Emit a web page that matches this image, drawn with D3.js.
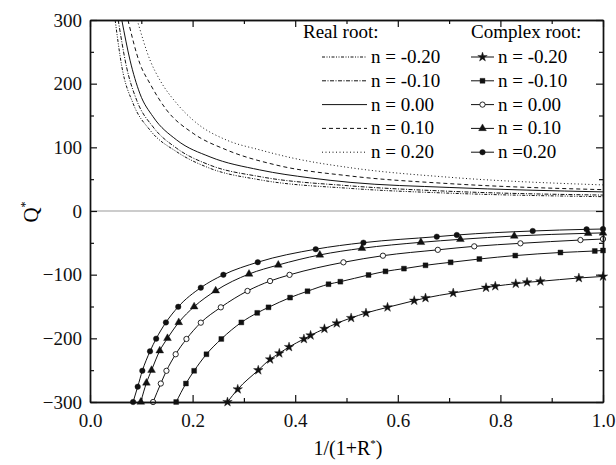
<!DOCTYPE html>
<html>
<head>
<meta charset="utf-8">
<script src="https://cdn.jsdelivr.net/npm/d3@7"></script>
<style>
  body { margin: 0; background: #fff; }
</style>
</head>
<body>
<div id="chart"></div>
<script>
// real root curves, [x, Q*]
const realN_m20 = [[0.049,300],[0.062,227],[0.084,169],[0.117,127],[0.169,93],[0.234,67],[0.331,49],[0.507,35.5],[0.7,28],[1.0,22.5]];
const realN_m10 = [[0.055,300],[0.071,227],[0.091,174],[0.123,132],[0.169,98.5],[0.234,72],[0.331,54],[0.507,39.5],[0.7,31],[1.0,25]];
const realN_000 = [[0.062,300],[0.078,237],[0.097,185],[0.123,148],[0.169,111.5],[0.234,85],[0.331,64.5],[0.429,52],[0.507,45],[0.7,37],[1.0,30]];
const realN_p10 = [[0.074,300],[0.097,232],[0.117,200],[0.149,159],[0.201,122],[0.266,96],[0.364,72],[0.507,55],[0.7,43],[1.0,33.5]];
const realN_p20 = [[0.092,300],[0.117,237],[0.136,206],[0.169,169],[0.208,138],[0.266,111.5],[0.331,96],[0.396,83],[0.507,68],[0.7,53],[1.0,41]];

// complex root curves (markers), [x, Q*]
const cplxN_m20 = [[0.268,-300],[0.288,-280],[0.328,-250],[0.351,-233],[0.369,-223.5],[0.388,-213.6],[0.417,-201],[0.43,-195.3],[0.457,-185],[0.481,-176.4],[0.509,-168],[0.538,-160.2],[0.58,-151.3],[0.632,-140.8],[0.654,-136.6],[0.708,-128.8],[0.772,-120.4],[0.79,-118],[0.83,-114.2],[0.852,-112],[0.878,-110.4],[0.953,-105.2],[1.0,-102.8]];
const cplxN_m10 = [[0.168,-300],[0.187,-271],[0.203,-251],[0.227,-225],[0.256,-201],[0.295,-175],[0.326,-160],[0.348,-151.3],[0.39,-136],[0.424,-126],[0.465,-115],[0.488,-111],[0.543,-100.5],[0.576,-94.8],[0.612,-90.5],[0.654,-85.3],[0.703,-80.6],[0.759,-75.4],[0.829,-70],[0.917,-65.2],[0.984,-62.8],[1.0,-62]];
const cplxN_000 = [[0.123,-300],[0.138,-271],[0.149,-251],[0.167,-225],[0.188,-201],[0.216,-175.4],[0.255,-151.3],[0.307,-125.6],[0.351,-110],[0.389,-100.3],[0.494,-80.6],[0.571,-70.2],[0.678,-61],[0.749,-55.5],[0.839,-50.8],[0.956,-45.6],[1.0,-44]];
const cplxN_p10 = [[0.099,-300],[0.11,-270],[0.12,-250],[0.136,-219.4],[0.151,-200],[0.173,-175],[0.203,-150.3],[0.245,-125.2],[0.31,-99],[0.367,-84.8],[0.448,-69],[0.53,-58.6],[0.645,-49.2],[0.722,-44.5],[0.827,-39.3],[0.971,-35],[1.0,-34.4]];
const cplxN_p20 = [[0.084,-300],[0.093,-276],[0.102,-251],[0.117,-220.4],[0.129,-200.5],[0.148,-175],[0.172,-150.5],[0.216,-120.4],[0.26,-100.2],[0.327,-80.4],[0.44,-60],[0.533,-49.7],[0.676,-40.3],[0.715,-37.7],[0.863,-31.4],[0.968,-28.8],[1.0,-28.3]];

const realLabels = ["n = -0.20", "n = -0.10", "n = 0.00", "n = 0.10", "n = 0.20"];
const cplxLabels = ["n = -0.20", "n = -0.10", "n = 0.00", "n = 0.10", "n =0.20"];
const xTicks = [0, 0.2, 0.4, 0.6, 0.8, 1.0];
const yTicks = [-300, -200, -100, 0, 100, 200, 300];

const realSeries = [realN_m20, realN_m10, realN_000, realN_p10, realN_p20];
const cplxSeries = [cplxN_m20, cplxN_m10, cplxN_000, cplxN_p10, cplxN_p20];
const dashes = ["3,1.5,1,1.5,1,1.5", "4,1.5,1,1.5", null, "4,3", "1,2.5"];
const symbols = [d3.symbolStar, d3.symbolSquare, d3.symbolCircle, d3.symbolTriangle, d3.symbolCircle];
const symSize = [28, 24, 22, 26, 24];
const symFill = ["#111", "#111", "#fff", "#111", "#111"];

const FONT = "Liberation Serif, DejaVu Serif, serif";

const margin = { top: 20, right: 13, bottom: 63, left: 90 };
const width = 616 - margin.left - margin.right;
const height = 465 - margin.top - margin.bottom;

const root = d3.select("#chart").append("svg")
    .attr("width", 616)
    .attr("height", 465)
    .attr("font-family", FONT);
const svg = root.append("g")
    .attr("transform", `translate(${margin.left},${margin.top})`);

const x = d3.scaleLinear().domain([0, 1]).range([0, width]);
const y = d3.scaleLinear().domain([-300, 300]).range([height, 0]);

root.append("defs").append("clipPath").attr("id", "plot")
    .append("rect").attr("width", width).attr("height", height);

// zero line
svg.append("line")
    .attr("x1", 0).attr("x2", width)
    .attr("y1", y(0)).attr("y2", y(0))
    .attr("stroke", "#999").attr("stroke-width", 1);

const line = d3.line()
    .x(d => x(d[0])).y(d => y(d[1]))
    .curve(d3.curveMonotoneX);

const plot = svg.append("g").attr("clip-path", "url(#plot)");

realSeries.forEach((s, i) => {
    plot.append("path")
        .datum(s)
        .attr("d", line)
        .attr("fill", "none")
        .attr("stroke", "#111")
        .attr("stroke-width", 1)
        .attr("stroke-dasharray", dashes[i]);
});

cplxSeries.forEach((s, i) => {
    plot.append("path")
        .datum(s)
        .attr("d", line)
        .attr("fill", "none")
        .attr("stroke", "#111")
        .attr("stroke-width", 1);
    svg.append("g").selectAll("path")
        .data(s)
        .enter()
        .append("path")
        .attr("transform", d => `translate(${x(d[0])},${y(d[1])})`)
        .attr("d", d3.symbol().type(symbols[i]).size(symSize[i]))
        .attr("fill", symFill[i])
        .attr("stroke", "#111")
        .attr("stroke-width", i === 2 ? 0.9 : 0.4);
});

// axes: inward ticks on all four sides
const styleAxis = g => {
    g.attr("font-family", FONT).attr("font-size", 19);
    g.select(".domain").attr("stroke", "#111").attr("stroke-width", 1.4);
    g.selectAll(".tick line").attr("stroke", "#111").attr("stroke-width", 1.2);
    g.selectAll(".tick text").attr("fill", "#111");
};
const minorX = [0.1, 0.3, 0.5, 0.7, 0.9];
const minorY = [-250, -150, -50, 50, 150, 250];

svg.append("g").attr("transform", `translate(0,${height})`)
    .call(d3.axisBottom(x).tickValues(xTicks).tickFormat(d3.format(".1f"))
        .tickSize(-7).tickSizeOuter(0).tickPadding(12))
    .call(styleAxis);
svg.append("g").attr("transform", `translate(0,${height})`)
    .call(d3.axisBottom(x).tickValues(minorX).tickFormat("").tickSize(-4).tickSizeOuter(0))
    .call(styleAxis);
svg.append("g")
    .call(d3.axisTop(x).tickValues(xTicks).tickFormat("").tickSize(-7).tickSizeOuter(0))
    .call(styleAxis);
svg.append("g")
    .call(d3.axisTop(x).tickValues(minorX).tickFormat("").tickSize(-4).tickSizeOuter(0))
    .call(styleAxis);

svg.append("g")
    .call(d3.axisLeft(y).tickValues(yTicks).tickFormat(d3.format("d"))
        .tickSize(-7).tickSizeOuter(0).tickPadding(8))
    .call(styleAxis);
svg.append("g")
    .call(d3.axisLeft(y).tickValues(minorY).tickFormat("").tickSize(-4).tickSizeOuter(0))
    .call(styleAxis);
svg.append("g").attr("transform", `translate(${width},0)`)
    .call(d3.axisRight(y).tickValues(yTicks).tickFormat("").tickSize(-7).tickSizeOuter(0))
    .call(styleAxis);
svg.append("g").attr("transform", `translate(${width},0)`)
    .call(d3.axisRight(y).tickValues(minorY).tickFormat("").tickSize(-4).tickSizeOuter(0))
    .call(styleAxis);

// axis titles
const xt = root.append("text")
    .attr("x", 348).attr("y", 455)
    .attr("text-anchor", "middle")
    .attr("font-size", 20);
xt.append("tspan").text("1/(1+R");
xt.append("tspan").attr("dy", -8).attr("font-size", 11).text("*");
xt.append("tspan").attr("dy", 8).text(")");

const yt = root.append("text")
    .attr("transform", "translate(38,212) rotate(-90)")
    .attr("text-anchor", "middle")
    .attr("font-size", 21);
yt.append("tspan").text("Q");
yt.append("tspan").attr("dy", -9).attr("font-size", 12).text("*");

// legend
const leg = root.append("g").attr("font-size", 19);
leg.append("text").attr("x", 303).attr("y", 38).text("Real root:");
leg.append("text").attr("x", 471).attr("y", 38).text("Complex root:");
realLabels.forEach((t, i) => {
    const yy = 63 + i * 23.8;
    leg.append("line")
        .attr("x1", 322).attr("x2", 367).attr("y1", yy - 6).attr("y2", yy - 6)
        .attr("stroke", "#111").attr("stroke-width", 1)
        .attr("stroke-dasharray", dashes[i]);
    leg.append("text").attr("x", 371).attr("y", yy).text(t);
});
cplxLabels.forEach((t, i) => {
    const yy = 63 + i * 23.8;
    leg.append("line")
        .attr("x1", 471).attr("x2", 494).attr("y1", yy - 6).attr("y2", yy - 6)
        .attr("stroke", "#111").attr("stroke-width", 1);
    leg.append("path")
        .attr("transform", `translate(482.5,${yy - 6})`)
        .attr("d", d3.symbol().type(symbols[i]).size(symSize[i]))
        .attr("fill", symFill[i])
        .attr("stroke", "#111")
        .attr("stroke-width", i === 2 ? 0.9 : 0.4);
    leg.append("text").attr("x", 498).attr("y", yy).text(t);
});
</script>
</body>
</html>
